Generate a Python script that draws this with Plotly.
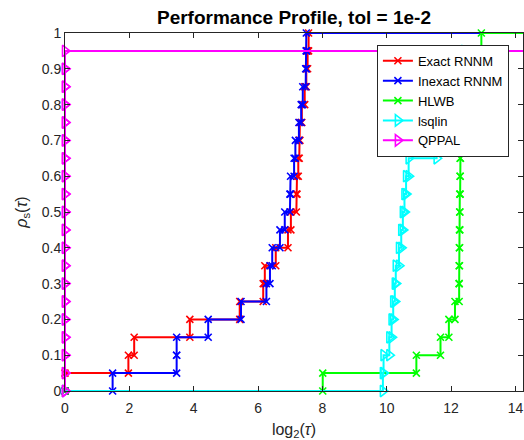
import numpy as np
import plotly.graph_objects as go

# ---- data (sorted log2 performance ratios per solver, 20 problems; inf = failure) ----
solvers = ["Exact RNNM", "Inexact RNNM", "HLWB", "lsqlin", "QPPAL"]
exact_rnnm = [0.0, 1.97, 2.15, 3.88, 5.43, 6.16, 6.21, 6.55, 6.93, 7.02,
              7.19, 7.21, 7.25, 7.28, 7.30, 7.36, 7.45, 7.50, 7.54, 7.57]
inexact_rnnm = [1.48, 3.47, 3.47, 4.45, 5.47, 6.26, 6.37, 6.44, 6.68, 6.83,
                6.99, 7.01, 7.12, 7.16, 7.27, 7.34, 7.39, 7.48, 7.50, 7.50]
hlwb = [8.01, 10.92, 11.67, 11.93, 12.12, 12.25, 12.25, 12.26, 12.26, 12.27,
        12.27, 12.28, 12.28, 12.29, 12.30, 12.32, 12.35, 12.40, 12.50, 12.94]
lsqlin = [9.88, 9.90, 10.08, 10.15, 10.20, 10.25, 10.28, 10.38, 10.45, 10.50,
          10.55, 10.60, 10.68, 11.55, 11.62, 11.70, 11.85, 12.10, 12.40, np.inf]
qppal = [0.0] * 19 + [np.inf]

series = [exact_rnnm, inexact_rnnm, hlwb, lsqlin, qppal]
colors = ["#FF0000", "#0000FF", "#00FF00", "#00FFFF", "#FF00FF"]
symbols = ["x-thin-open", "x-thin-open", "x-thin-open", "triangle-right-open", "triangle-right-open"]
msizes = [7, 7, 7, 10, 10]

xticks = [0, 2, 4, 6, 8, 10, 12, 14]
yticks = [0, 0.1, 0.2, 0.3, 0.4, 0.5, 0.6, 0.7, 0.8, 0.9, 1]
ytick_text = ["0", "0.1", "0.2", "0.3", "0.4", "0.5", "0.6", "0.7", "0.8", "0.9", "1"]

finite = np.concatenate([np.array(s)[np.isfinite(s)] for s in series])
max_data = finite.max()
fail_val = 2 * max_data


def stairs(vals):
    v = np.sort(np.where(np.isfinite(vals), vals, fail_val))
    n = len(v)
    levels = np.arange(0, n + 1) / n
    xs, ys = [0.0], [0.0]
    for i, t in enumerate(v):
        xs += [t, t]
        ys += [levels[i], levels[i + 1]]
    xs.append(fail_val)
    ys.append(levels[-1])
    return xs, ys


fig = go.Figure()
for name, vals, c, sym, ms in zip(solvers, series, colors, symbols, msizes):
    xs, ys = stairs(vals)
    fig.add_trace(go.Scatter(
        x=xs, y=ys, name=name, mode="lines+markers",
        line=dict(color=c, width=2),
        marker=dict(symbol=sym, size=ms, color=c, line=dict(color=c, width=1.6)),
        cliponaxis=False,
    ))

font = "Liberation Sans, Arial, Helvetica, sans-serif"
axis_common = dict(
    showline=True, linecolor="#262626", linewidth=1, mirror="ticks",
    ticks="inside", ticklen=5, tickcolor="#262626", showgrid=False, zeroline=False,
    tickfont=dict(family=font, size=14, color="#262626"),
)
fig.update_layout(
    width=524, height=440,
    margin=dict(l=65, r=1, t=33, b=49),
    paper_bgcolor="white", plot_bgcolor="white",
    font=dict(family=font, color="#262626"),
    title=dict(text="<b>Performance Profile, tol = 1e-2</b>", x=0.5, xref="paper",
               y=1 - 17 / 440, yref="container", yanchor="middle",
               font=dict(family=font, size=19, color="black")),
    xaxis=dict(range=[0, 1.1 * max_data], tickvals=xticks, ticklabelstandoff=4,
               title=dict(text="log<sub>2</sub>(<i>τ</i>)", font=dict(family=font, size=16, color="#262626"), standoff=9),
               **axis_common),
    yaxis=dict(range=[0, 1], tickvals=yticks, ticktext=ytick_text,
               title=dict(text="<i>ρ</i><sub>s</sub>(<i>τ</i>)", font=dict(family=font, size=16, color="#262626"), standoff=10),
               **axis_common),
    legend=dict(x=0.681, y=0.967, xanchor="left", yanchor="top",
                bgcolor="white", bordercolor="#262626", borderwidth=1,
                font=dict(family=font, size=13, color="black"),
                tracegroupgap=0, itemwidth=30),
    showlegend=True,
)
fig.write_html("out.html")
